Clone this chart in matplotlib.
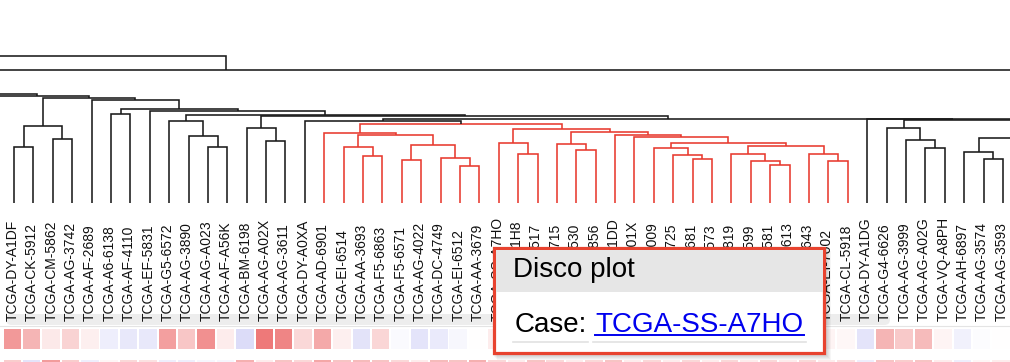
import matplotlib
matplotlib.use("Agg")
import matplotlib.pyplot as plt
from matplotlib.patches import Rectangle, FancyBboxPatch
from matplotlib.colors import LinearSegmentedColormap

plt.rcParams['font.family'] = ['Liberation Sans', 'DejaVu Sans']

# leaf order of the dendrogram (left to right)
cases = ["TCGA-DY-A1DF", "TCGA-CK-5912", "TCGA-CM-5862", "TCGA-AG-3742", "TCGA-AF-2689",
         "TCGA-A6-6138", "TCGA-AF-4110", "TCGA-EF-5831", "TCGA-G5-6572", "TCGA-AG-3890",
         "TCGA-AG-A023", "TCGA-AF-A56K", "TCGA-BM-6198", "TCGA-AG-A02X", "TCGA-AG-3611",
         "TCGA-DY-A0XA", "TCGA-AD-6901", "TCGA-EI-6514", "TCGA-AA-3693", "TCGA-F5-6863",
         "TCGA-F5-6571", "TCGA-AG-4022", "TCGA-DC-4749", "TCGA-EI-6512", "TCGA-AA-3679",
         "TCGA-SS-A7HO", "TCGA-DY-A1H8", "TCGA-AA-3517", "TCGA-AA-3715", "TCGA-AA-3530",
         "TCGA-AA-3856", "TCGA-DY-A1DD", "TCGA-AA-A01X", "TCGA-AA-A009", "TCGA-AA-3725",
         "TCGA-AA-3681", "TCGA-AZ-6573", "TCGA-AA-3819", "TCGA-AZ-6599", "TCGA-AA-3581",
         "TCGA-AG-3613", "TCGA-AA-3643", "TCGA-EI-7002", "TCGA-CL-5918", "TCGA-DY-A1DG",
         "TCGA-G4-6626", "TCGA-AG-3999", "TCGA-AG-A02G", "TCGA-VQ-A8PH", "TCGA-AH-6897",
         "TCGA-AG-3574", "TCGA-AG-3593"]

# branches that continue outside the visible window (position in leaf units)
stub_pos = {'L1': -1.54, 'L2': -6.0, 'L3': -40.0, 'L4': -30.0, 'R1': 70.0, 'R2': 61.86}

# merges: (node, left child, right child, height)
merges = [
    ('n01', 0, 1, 0.560), ('n23', 2, 3, 0.643), ('S1', 'n01', 'n23', 0.770),
    ('n56', 5, 6, 0.887),
    ('n1011', 10, 11, 0.563), ('n9', 9, 'n1011', 0.670), ('S2', 8, 'n9', 0.823),
    ('n1314', 13, 14, 0.623), ('S3', 12, 'n1314', 0.747),
    ('r1819', 18, 19, 0.470), ('RC', 17, 'r1819', 0.557),
    ('r2021', 20, 21, 0.430), ('r2324', 23, 24, 0.373), ('r22', 22, 'r2324', 0.453),
    ('RD', 'r2021', 'r22', 0.580), ('RB', 'RC', 'RD', 0.680), ('RA', 16, 'RB', 0.703),
    ('r2627', 26, 27, 0.487), ('A', 25, 'r2627', 0.597),
    ('r2930', 29, 30, 0.530), ('C', 28, 'r2930', 0.587),
    ('r3536', 35, 36, 0.437), ('r34', 34, 'r3536', 0.480), ('G', 33, 'r34', 0.547),
    ('r3940', 39, 40, 0.380), ('r38', 38, 'r3940', 0.420), ('I', 37, 'r38', 0.490),
    ('r4243', 42, 43, 0.420), ('J', 41, 'r4243', 0.490),
    ('H', 'I', 'J', 0.573), ('F', 'G', 'H', 0.603), ('E', 32, 'F', 0.663),
    ('D', 31, 'E', 0.680), ('B', 'C', 'D', 0.713), ('Rr', 'A', 'B', 0.737),
    ('RED', 'RA', 'Rr', 0.785),
    ('U', 15, 'RED', 0.823),
    ('b4748', 47, 48, 0.553), ('b46', 46, 'b4748', 0.630), ('R1n', 45, 'b46', 0.750),
    ('b5051', 50, 51, 0.437), ('R2n', 49, 'b5051', 0.513), ('Rp', 'R2n', 'R1', 0.653),
    ('N2', 'R1n', 'Rp', 0.830), ('N', 44, 'N2', 0.835), ('W', 'U', 'N', 0.838),
    ('Z', 'S3', 'W', 0.867), ('T5', 'S2', 'Z', 0.877), ('T4', 7, 'T5', 0.915),
    ('T3', 'n56', 'T4', 0.940), ('T2', 4, 'T3', 1.025), ('T1', 'S1', 'T2', 1.053),
    ('T0', 'L1', 'T1', 1.070), ('Tm1', 'L2', 'T0', 1.085),
    ('TOP2', 'L3', 'R2', 1.330), ('TOP1', 'L4', 'TOP2', 1.473),
]
red_cluster = ['r1819', 'RC', 'r2021', 'r2324', 'r22', 'RD', 'RB', 'RA', 'r2627', 'A',
               'r2930', 'C', 'r3536', 'r34', 'G', 'r3940', 'r38', 'I', 'r4243', 'J',
               'H', 'F', 'E', 'D', 'B', 'Rr', 'RED']

# expression strip under the leaves (red > 0, blue < 0)
heat_row1 = [0.52, 0.38, 0.11, 0.22, 0.08, -0.10, -0.13, -0.13, 0.49, 0.29,
             0.57, 0.10, -0.20, 0.68, 0.62, 0.20, 0.44, 0.08, -0.16, 0.21,
             -0.03, -0.15, -0.12, -0.04, 0.0, 0.10, 0.20, 0.05, -0.10, 0.15,
             0.30, 0.05, -0.05, 0.10, 0.20, 0.10, 0.05, -0.10, 0.15, 0.20,
             0.05, 0.10, 0.06, 0.04, -0.15, 0.38, 0.28, 0.35, 0.06, -0.08,
             -0.02, 0.0]
heat_row2 = [0.25, -0.15, 0.50, 0.25, -0.10, 0.05, 0.20, 0.15, -0.10, -0.10,
             -0.05, -0.05, 0.40, 0.10, 0.30, 0.20, 0.45, 0.30, 0.35, 0.30,
             0.20, 0.10, 0.35, 0.30, 0.40, 0.20, 0.10, 0.30, 0.20, 0.10,
             0.20, 0.30, 0.10, 0.20, 0.10, 0.20, 0.10, 0.20, 0.10, 0.20,
             0.10, 0.20, 0.10, 0.15, -0.10, 0.30, 0.25, 0.30, 0.10, -0.10,
             0.05, 0.10]

W, H = 1010, 362
BLACK = '#1a1a1a'
RED = '#e8392e'


def rect(x0, y0, x1, y1):
    return [x0 / W, 1 - y1 / H, (x1 - x0) / W, (y1 - y0) / H]


fig = plt.figure(figsize=(W / 100, H / 100), dpi=100)
fig.patch.set_facecolor('white')
xlim = (-14 / 19.39, (W - 14) / 19.39)

# dendrogram
ax = fig.add_axes(rect(0, 0, W, 203))
pos = {i: float(i) for i in range(len(cases))}
pos.update(stub_pos)
hgt = {k: 0.0 for k in pos}
for name, a, b, h in merges:
    pos[name] = (pos[a] + pos[b]) / 2
    hgt[name] = h
    col = RED if name in red_cluster else BLACK
    ax.plot([pos[a], pos[a], pos[b], pos[b]], [hgt[a], h, h, hgt[b]],
            color=col, lw=1.15, solid_joinstyle='miter', solid_capstyle='butt')
ax.set_xlim(*xlim)
ax.set_ylim(0, 2.03)
ax.axis('off')

# scrollbar (under the labels)
axs = fig.add_axes([0, 0, 1, 1], zorder=0)
axs.set_xlim(0, W)
axs.set_ylim(H, 0)
axs.axis('off')
axs.plot([0, W], [325.5, 325.5], color='#e4e4e4', lw=0.8)
axs.add_patch(FancyBboxPatch((6, 314), 884, 11, boxstyle='round,pad=0,rounding_size=5.5',
                             fc='#e9e9e9', ec='none', alpha=0.8))

# leaf labels
axl = fig.add_axes(rect(0, 203, W, 321), zorder=1)
axl.set_xlim(*xlim)
axl.set_ylim(0, 1)
axl.axis('off')
for i, name in enumerate(cases):
    axl.text(i - 0.07, 0, name, rotation=90, ha='center', va='bottom',
             fontsize=10, color='#111111')

# heat strip
cmap = LinearSegmentedColormap.from_list('bwr_soft', ['#5050dc', '#ffffff', '#e63c3c'])
axh = fig.add_axes(rect(0, 329, W, 362), zorder=1)
axh.set_xlim(*xlim)
axh.set_ylim(33, 0)
axh.axis('off')
xs = [i - 0.09 for i in range(len(cases))]
axh.bar(xs, 20, bottom=0, width=0.9, color=[cmap((v + 1) / 2) for v in heat_row1])
axh.bar(xs, 20, bottom=30.7, width=0.9, color=[cmap((v + 1) / 2) for v in heat_row2])

# tooltip
axo = fig.add_axes([0, 0, 1, 1], zorder=5)
axo.set_xlim(0, W)
axo.set_ylim(H, 0)
axo.axis('off')
for k in range(1, 6):
    axo.add_patch(Rectangle((492 + k, 246 + k), 334, 109, fc='black', ec='none', alpha=0.035))
axo.add_patch(Rectangle((493.7, 248), 330.5, 105, fc='white', ec='#e8432f', lw=2.3))
axo.add_patch(Rectangle((495.5, 249.6), 327, 42, fc='#e6e6e6', ec='none'))
axo.text(513, 277, 'Disco plot', fontsize=20, color='black', va='baseline')
axo.text(515, 331.5, 'Case:', fontsize=20, color='black', va='baseline')
axo.text(595, 331.5, 'TCGA-SS-A7HO', fontsize=20, color='#0000ee', va='baseline')
axo.plot([595, 804], [335, 335], color='#0000ee', lw=1.4)
axo.plot([513, 588], [341.7, 341.7], color='#e2e2e2', lw=1.2)
axo.plot([593, 806], [341.7, 341.7], color='#e2e2e2', lw=1.2)

fig.savefig('out.png', dpi=100, facecolor='white')
